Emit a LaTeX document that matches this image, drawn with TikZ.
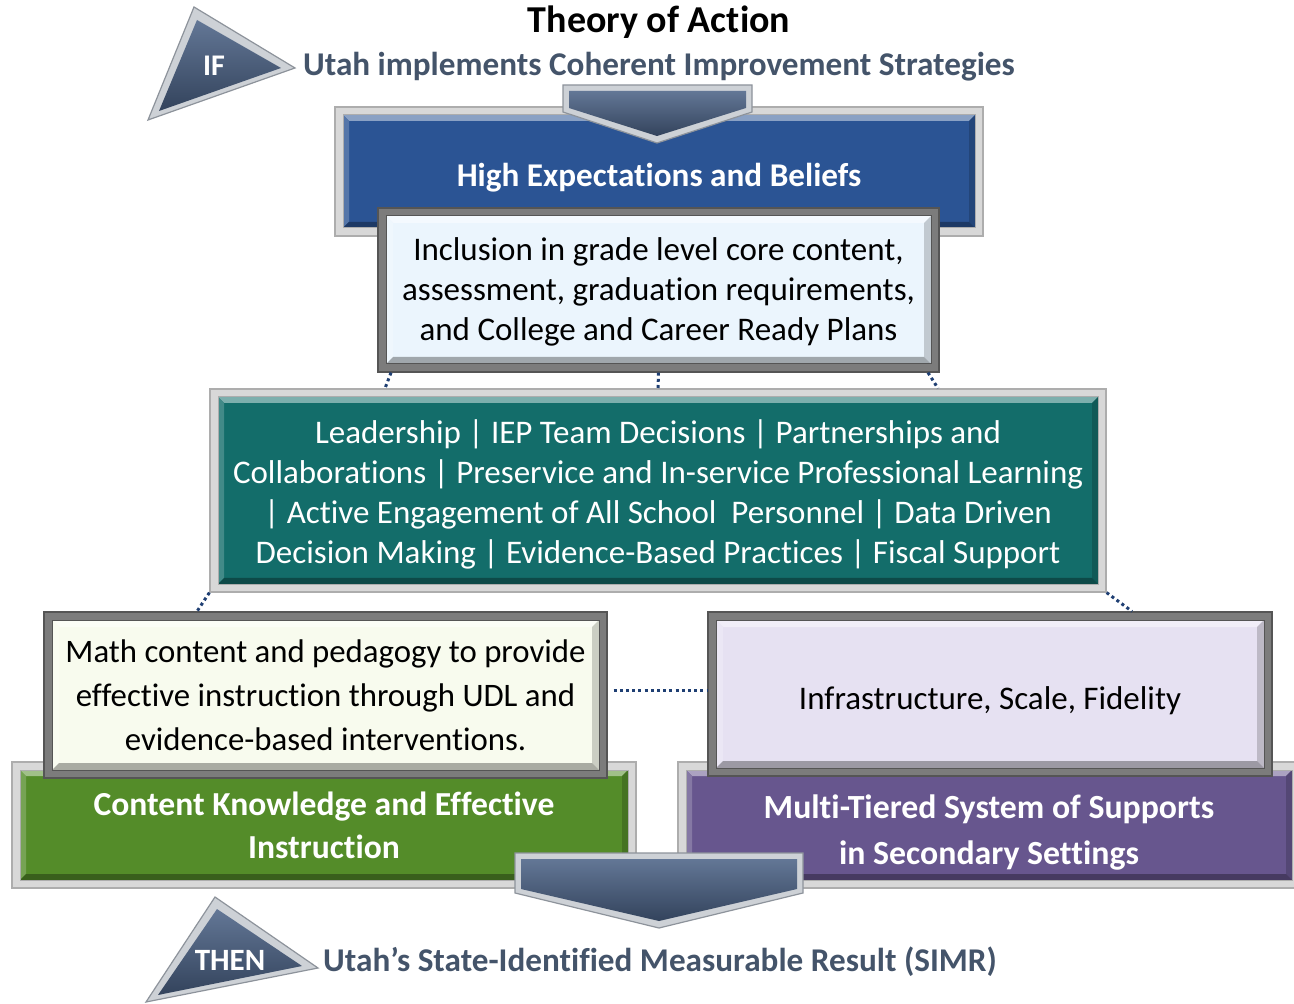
\documentclass[tikz,border=0pt]{standalone}
\usepackage{fontspec}
\setmainfont{Carlito}[Ligatures=NoCommon]
\definecolor{slate}{HTML}{44546A}
\definecolor{slatehi}{HTML}{637796}
\definecolor{slatelo}{HTML}{33435C}
\definecolor{hiblue}{HTML}{2B5494}
\definecolor{tealc}{HTML}{136D6A}
\definecolor{greenc}{HTML}{548C29}
\definecolor{purplec}{HTML}{67568E}
\definecolor{inclf}{HTML}{EBF5FD}
\definecolor{mathf}{HTML}{F8FBEE}
\definecolor{infraf}{HTML}{E6E1F2}
\definecolor{silver}{HTML}{D8D8D8}
\definecolor{silverline}{HTML}{ADADAD}
\definecolor{darkframe}{HTML}{7C7C7C}
\definecolor{darkframeline}{HTML}{555555}
\definecolor{trisilver}{HTML}{CDD1D6}
\definecolor{trisilverline}{HTML}{8D939B}
\definecolor{dotc}{HTML}{1F3F73}
\newcommand{\dn}[2]{\raisebox{-#1}[\height][\depth]{#2}}
\tikzset{
  bbox/.style n args={5}{rectangle, inner sep=0pt, align=center,
    fill=#1, draw=#2, line width=0.6pt,
    path picture={
      \coordinate (i1) at ([shift={(#4,-#4)}]path picture bounding box.north west);
      \coordinate (i2) at ([shift={(-#4,-#4)}]path picture bounding box.north east);
      \coordinate (i3) at ([shift={(-#4,#4)}]path picture bounding box.south east);
      \coordinate (i4) at ([shift={(#4,#4)}]path picture bounding box.south west);
      \coordinate (j1) at ([shift={(#5,-#5)}]i1);
      \coordinate (j2) at ([shift={(-#5,-#5)}]i2);
      \coordinate (j3) at ([shift={(-#5,#5)}]i3);
      \coordinate (j4) at ([shift={(#5,#5)}]i4);
      \fill[#3] (i1) rectangle (i3);
      \fill[#3!55!white] (i1) -- (i2) -- (j2) -- (j1) -- cycle;
      \fill[#3!80!white] (i1) -- (j1) -- (j4) -- (i4) -- cycle;
      \fill[#3!82!black] (i2) -- (i3) -- (j3) -- (j2) -- cycle;
      \fill[#3!68!black] (i4) -- (i3) -- (j3) -- (j4) -- cycle;
      \draw[#2, line width=0.5pt] (i1) rectangle (i3);
    }},
  dots/.style={dotc, line width=1.5pt, dash pattern=on 1.5pt off 1.6pt},
  slatefill/.style={top color=slatehi, bottom color=slatelo},
  rim/.style={fill=trisilver, draw=trisilverline, line width=0.6pt},
  bodyf/.style={font=\fontsize{16.5pt}{20pt}\selectfont},
}
\begin{document}
\begin{tikzpicture}[x=0.5pt, y=-0.5pt]
\useasboundingbox (0,0) rectangle (1294,1004);

% title and IF line
\node[font=\fontsize{19pt}{22pt}\selectfont\bfseries, text=black] (title) at (659,22) {Theory of Action};
\node[font=\fontsize{16.6pt}{18pt}\selectfont\bfseries, text=slate] (ifline) at (659,67) {Utah implements Coherent Improvement Strategies};

% blue box
\node[bbox={silver}{silverline}{hiblue}{4pt}{3pt}, minimum width=324pt, minimum height=64.5pt,
      text=white, font=\fontsize{16.6pt}{20pt}\selectfont\bfseries] (hi) at (659,171.5) {\dn{3pt}{High Expectations and Beliefs}};

% top chevron
\path[rim] (563,85) -- (752,85) -- (752,112) -- (657,143) -- (563,112) -- cycle;
\path[slatefill] (569,91) -- (746,91) -- (746,108) -- (657,136) -- (569,108) -- cycle;

% inclusion box
\node[bbox={darkframe}{darkframeline}{inclf}{4pt}{3.5pt}, minimum width=280.5pt, minimum height=82pt,
      text=black, bodyf] (incl) at (658.5,290) {\dn{1pt}{Inclusion in grade level core content,}\\ \dn{1pt}{assessment, graduation requirements,}\\ \dn{1pt}{and College and Career Ready Plans}};

% teal box
\node[bbox={silver}{silverline}{tealc}{4pt}{3pt}, minimum width=448pt, minimum height=101.5pt,
      text=white, bodyf] (teal) at (658,490.5) {\dn{2pt}{Leadership | IEP Team Decisions | Partnerships and}\\ \dn{2pt}{Collaborations | Preservice and In-service Professional Learning}\\ \dn{2pt}{| Active Engagement of All School\ \ Personnel | Data Driven}\\ \dn{2pt}{Decision Making | Evidence-Based Practices | Fiscal Support}};

% green and purple boxes
\node[bbox={silver}{silverline}{greenc}{4pt}{3pt}, minimum width=312pt, minimum height=63pt,
      text=white, font=\fontsize{16.8pt}{21.5pt}\selectfont\bfseries] (green) at (324,825) {Content Knowledge and Effective\\ Instruction};
\node[bbox={silver}{silverline}{purplec}{4pt}{3pt}, minimum width=311pt, minimum height=63pt,
      text=white, font=\fontsize{16.9pt}{23pt}\selectfont\bfseries] (purple) at (989,825) {\dn{4pt}{Multi-Tiered System of Supports}\\ \dn{4pt}{in Secondary Settings}};

% math and infrastructure boxes
\node[bbox={darkframe}{darkframeline}{mathf}{4pt}{3.5pt}, minimum width=281.5pt, minimum height=83pt,
      text=black, font=\fontsize{16.4pt}{22pt}\selectfont] (math) at (325.5,695) {Math content and pedagogy to provide\\ effective instruction through UDL and\\ evidence-based interventions.};
\node[bbox={darkframe}{darkframeline}{infraf}{4pt}{3.5pt}, minimum width=282pt, minimum height=82pt,
      text=black, bodyf] (infra) at (990,694) {\dn{3.5pt}{Infrastructure, Scale, Fidelity}};

% dotted connectors
\draw[dots] (incl.south -| 391,0) -- (teal.north -| 385,0);
\draw[dots] (incl.south) -- (teal.north);
\draw[dots] (incl.south -| 928,0) -- (teal.north -| 938,0);
\draw[dots] (teal.south west) -- (math.north -| 197,0);
\draw[dots] (teal.south east) -- (infra.north -| 1132,0);
\draw[dots] (math.east |- 0,690) ++(3pt,0) -- (infra.west |- 0,690);

% bottom chevron
\path[rim] (515,853) -- (803,853) -- (803,893) -- (659,928) -- (515,893) -- cycle;
\path[slatefill] (521,859) -- (797,859) -- (797,889) -- (659,921) -- (521,889) -- cycle;

% IF triangle
\path[rim] (194,7) -- (148,120) -- (295,68) -- cycle;
\path[slatefill] (197,20) -- (159,111) -- (281,68) -- cycle;
\node[font=\fontsize{15pt}{17pt}\selectfont\bfseries, text=white] (iftxt) at (214,66) {IF};

% THEN triangle
\path[rim] (215,897) -- (146,1002) -- (318,968) -- cycle;
\path[slatefill] (217,909) -- (158,995) -- (302,966) -- cycle;
\node[font=\fontsize{15.5pt}{17pt}\selectfont\bfseries, text=white] (thentxt) at (230,960) {THEN};
\node[font=\fontsize{16.6pt}{18pt}\selectfont\bfseries, text=slate] (thenline) at (660,962) {Utah’s State-Identified Measurable Result (SIMR)};
\end{tikzpicture}
\end{document}
